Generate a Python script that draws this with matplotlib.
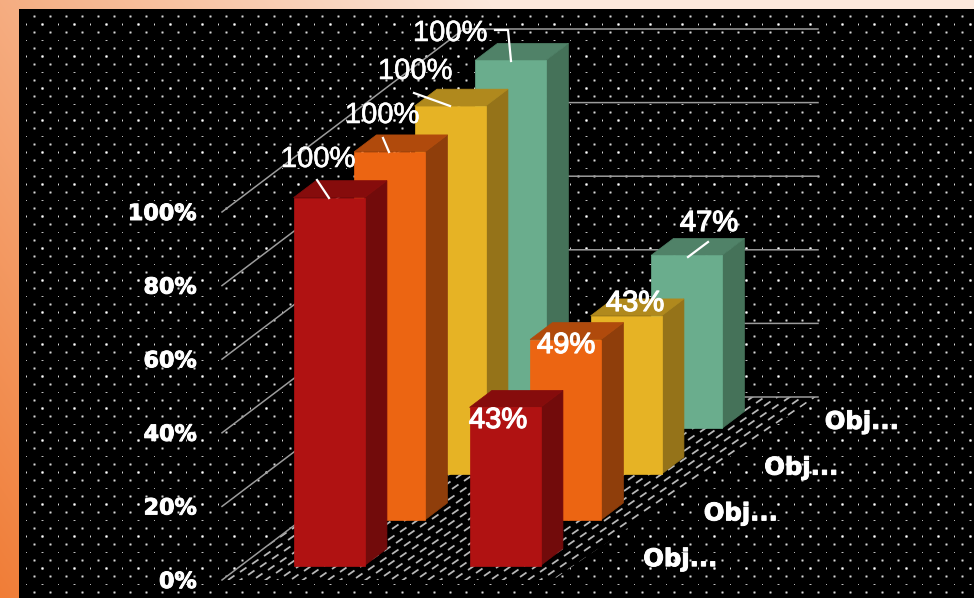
import numpy as np
import matplotlib
matplotlib.use("Agg")
import matplotlib.pyplot as plt
from matplotlib.patches import Polygon
from matplotlib.collections import LineCollection
import matplotlib.patheffects as pe

# ---- data ----
series_names = ["Obj...", "Obj...", "Obj...", "Obj..."]
red_values = [100, 43]
orange_values = [100, 49]
yellow_values = [100, 43]
green_values = [100, 47]
tick_values = [0, 20, 40, 60, 80, 100]
tick_labels = ["0%", "20%", "40%", "60%", "80%", "100%"]

rows = [red_values, orange_values, yellow_values, green_values]
front_cols = ["#B01212", "#EC6512", "#E6B325", "#6AAD8D"]
side_cols = ["#720B0B", "#8F3E0B", "#957319", "#457259"]
top_cols = ["#860C0C", "#B04A0C", "#B0891D", "#508268"]

# ---- oblique projection ----
X0, Y0 = 222.0, 580.0      # front-left floor corner
CAT_W = 176.0              # pixels per category
DX, DY = 242.0, 183.0      # full depth offset
VAL = 3.68                 # pixels per percentage point
BAR_W = 71 / 176
BAR_D = 0.37               # of a row
N_CAT, N_ROW = 2, 4


def proj(c, r, v=0.0):
    d = r / N_ROW
    return (X0 + c * CAT_W + d * DX, Y0 - d * DY - v * VAL)


fig = plt.figure(figsize=(9.74, 5.98), dpi=100)
ax = fig.add_axes([0, 0, 1, 1])
ax.set_xlim(0, 974)
ax.set_ylim(598, 0)
ax.axis("off")

# ---- background ----
H, W = 598, 974
yy, xx = np.mgrid[0:H, 0:W]
c_light = np.array([252, 232, 220]) / 255
c_dark = np.array([240, 125, 55]) / 255
t2 = np.clip(0.55 + 0.45 * (yy / 598) - 1.1 * (xx / 974), 0, 1)
bg = c_light + (c_dark - c_light) * t2[..., None]
bg[9:, 19:] = 0.0


def stamp(x, y, kernel):
    k = np.asarray(kernel, float)
    kh, kw = k.shape
    y0, x0 = y - kh // 2, x - kw // 2
    if y0 >= 9 and x0 >= 19 and y0 + kh <= H and x0 + kw <= W:
        bg[y0:y0 + kh, x0:x0 + kw] = np.maximum(bg[y0:y0 + kh, x0:x0 + kw], k[..., None])


MED = [[.2, .45, .2], [.45, .85, .45], [.2, .45, .2]]
BRIGHT = [[.35, .7, .35], [.7, 1, .7], [.35, .7, .35]]
THIN = [[.4], [.85], [.4]]
WIDE = [[.35, .75, .35]]
SMALL = [[.7]]
for cy in range(16, 600, 32):
    for x in range(18, 980, 16):
        stamp(x, cy, MED)
        stamp(x, cy + 16, MED)
    for x in range(26, 980, 32):
        stamp(x, cy + 8, THIN)
        stamp(x + 16, cy + 8, BRIGHT)
        stamp(x, cy + 24, SMALL)
        stamp(x + 16, cy + 24, WIDE)
ax.imshow(bg, extent=(0, 974, 598, 0), aspect="auto", interpolation="nearest", zorder=0)

# ---- floor ----
floor = [proj(0, 0), proj(N_CAT - 0.12, 0), proj(N_CAT, N_ROW), proj(0, N_ROW)]
fpoly = Polygon(floor, closed=True, fc="black", ec="none", zorder=1)
ax.add_patch(fpoly)
segs = []
for i in range(-90, 130):
    for j in range(-90, 130):
        xr, yr = 240 + 8 * i + 12 * j, 572 + 3 * i - 8 * j
        if 190 < xr < 860 and 385 < yr < 600:
            segs.append([(xr, yr), (xr + 6.5, yr - 4.5)])
lc = LineCollection(segs, colors="#b8b8b8", linewidths=1.3, zorder=1.2)
ax.add_collection(lc)
lc.set_clip_path(fpoly)

# ---- walls / gridlines ----
grid_kw = dict(color="#9c9c9c", lw=1.1, zorder=1.5)
tick_stroke = [pe.withStroke(linewidth=0.7, foreground="white")]
for v, lab in zip(tick_values, tick_labels):
    a, b, e = proj(0, 0, v), proj(0, N_ROW, v), proj(N_CAT, N_ROW, v)
    ax.plot([a[0], b[0], e[0] + 2], [a[1], b[1], e[1]], **grid_kw)
    ax.text(a[0] - 25, a[1] + 2, lab, color="white", family="DejaVu Sans", weight="bold",
            fontsize=16, ha="right", va="center", zorder=6, path_effects=tick_stroke)

# ---- bars, back to front ----
for r in range(N_ROW - 1, -1, -1):
    r0, r1 = r + (1 - BAR_D) / 2, r + (1 + BAR_D) / 2
    for c, v in enumerate(rows[r]):
        c0, c1 = c + (1 - BAR_W) / 2, c + (1 + BAR_W) / 2
        front = [proj(c0, r0), proj(c1, r0), proj(c1, r0, v), proj(c0, r0, v)]
        side = [proj(c1, r0), proj(c1, r1), proj(c1, r1, v), proj(c1, r0, v)]
        top = [proj(c0, r0, v), proj(c1, r0, v), proj(c1, r1, v), proj(c0, r1, v)]
        z = 2 + (N_ROW - r)
        for pts, col in ((side, side_cols[r]), (top, top_cols[r]), (front, front_cols[r])):
            ax.add_patch(Polygon(pts, closed=True, fc=col, ec=col, lw=0.5, zorder=z))

# ---- data labels ----
label_pos = {
    (0, 0): (318, 159), (1, 0): (382, 115), (2, 0): (415, 71), (3, 0): (450, 33),
    (0, 1): (498, 420), (1, 1): (566, 345), (2, 1): (635, 303), (3, 1): (709, 223),
}
for r in range(N_ROW):
    for c, v in enumerate(rows[r]):
        x, y = label_pos[(r, c)]
        w = 0.9 if c == 1 else 0.4
        ax.text(x, y, f"{v}%", color="white", family="Liberation Sans", fontsize=21,
                ha="center", va="center", zorder=8,
                path_effects=[pe.withStroke(linewidth=w, foreground="white")])

# leader lines
leaders = [
    ([317, 329], [180, 198]),
    ([383, 389], [138, 152]),
    ([414, 450], [93, 106]),
    ([495, 508, 511], [30, 30, 61]),
    ([708, 688], [242, 257]),
]
for lx, ly in leaders:
    ax.plot(lx, ly, color="white", lw=1.6, zorder=7)

# ---- depth axis labels ----
for r, name in enumerate(series_names):
    x, y = proj(N_CAT, r + 0.5)
    ax.text(x + 39, y + 2, name, color="white", family="DejaVu Sans", weight="bold",
            fontsize=17.5, ha="left", va="center", zorder=6, path_effects=tick_stroke)

fig.savefig("out.png", dpi=100)
